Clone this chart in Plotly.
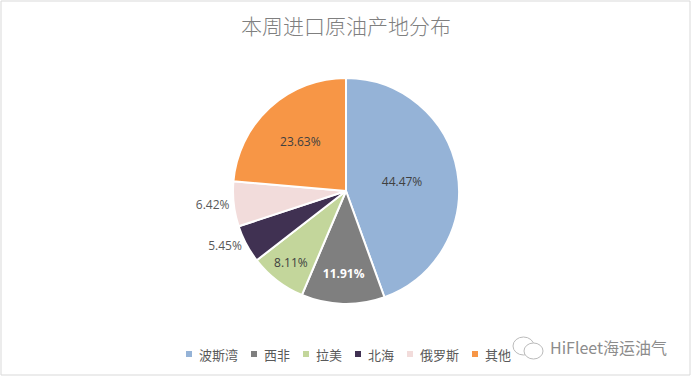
import plotly.graph_objects as go

regions = ["波斯湾", "西非", "拉美", "北海", "俄罗斯", "其他"]
shares = [44.47, 11.91, 8.11, 5.45, 6.42, 23.63]
colors = ["#95B3D7", "#7F7F7F", "#C3D69B", "#403152", "#F2DCDB", "#F79646"]
label_pos = ["inside", "inside", "inside", "outside", "outside", "inside"]
label_color = ["#404040", "#FFFFFF", "#404040", "#595959", "#595959", "#404040"]
label_bold = [False, True, False, False, False, False]
title_text = "本周进口原油产地分布"
watermark = "HiFleet海运油气"

W, H = 692, 378
cx, cy, r = 346, 191, 113

font_num = "Open Sans, Noto Sans CJK SC, sans-serif"
font_cjk = "Noto Sans CJK SC, sans-serif"

templates = ["<b>%{value:.2f}%</b>" if b else "%{value:.2f}%" for b in label_bold]

fig = go.Figure()
fig.add_trace(go.Pie(
    labels=regions,
    values=shares,
    sort=False,
    direction="clockwise",
    rotation=0,
    marker=dict(colors=colors, line=dict(color="#FFFFFF", width=2)),
    texttemplate=templates,
    textposition=label_pos,
    insidetextorientation="horizontal",
    textfont=dict(family=font_num, size=12, color=label_color),
    hoverinfo="label+value",
    showlegend=False,
    automargin=False,
    domain=dict(x=[(cx - r) / W, (cx + r) / W],
                y=[(H - cy - r) / H, (H - cy + r) / H]),
))

# custom legend (small square markers, like the reference)
shapes = [
    dict(type="rect", xref="paper", yref="paper", x0=1 / W, y0=1 - 1 / H, x1=1 - 2 / W, y1=3 / H,
         line=dict(color="#D9D9D9", width=1)),
    dict(type="circle", xref="paper", yref="paper",
         x0=513 / W, x1=534 / W, y0=(H - 355) / H, y1=(H - 337) / H,
         line=dict(color="#BBBBBB", width=1)),
    dict(type="circle", xref="paper", yref="paper",
         x0=524 / W, x1=543 / W, y0=(H - 359) / H, y1=(H - 343) / H,
         line=dict(color="#BBBBBB", width=1), fillcolor="white"),
]
annotations = [
    dict(text=watermark, xref="paper", yref="paper", x=548 / W, y=(H - 347) / H,
         xanchor="left", yanchor="middle", showarrow=False,
         font=dict(family=font_cjk, size=16, color="#8C8C8C")),
]
leg_y = 354
x = 189
for name, col in zip(regions, colors):
    shapes.append(dict(type="rect", xref="paper", yref="paper",
                       x0=(x - 3) / W, x1=(x + 3) / W,
                       y0=(H - leg_y - 3) / H, y1=(H - leg_y + 3) / H,
                       line=dict(width=0), fillcolor=col))
    annotations.append(dict(text=name, xref="paper", yref="paper",
                            x=(x + 8) / W, y=(H - leg_y) / H,
                            xanchor="left", yanchor="middle", showarrow=False,
                            font=dict(family=font_cjk, size=13, color="#595959")))
    x += 8 + 13 * len(name) + 18

fig.update_layout(
    width=W, height=H,
    margin=dict(l=0, r=0, t=0, b=0),
    paper_bgcolor="white",
    plot_bgcolor="white",
    title=dict(text=title_text, x=0.5, xanchor="center", y=1 - 27 / H, yanchor="middle",
               font=dict(family=font_cjk, size=21, color="#7F7F7F", weight=300)),
    shapes=shapes,
    annotations=annotations,
)

fig.write_html("out.html")
